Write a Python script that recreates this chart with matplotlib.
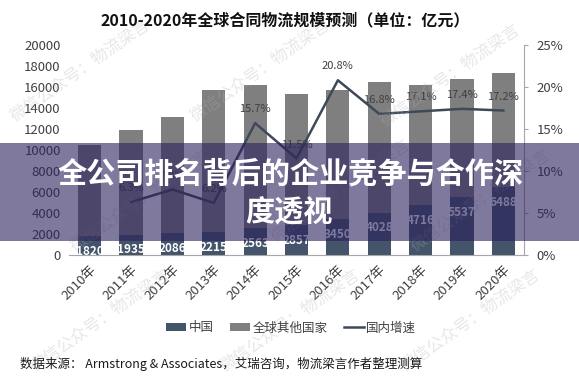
import matplotlib
matplotlib.use("Agg")
import matplotlib.pyplot as plt
from matplotlib.patches import Rectangle
import numpy as np

plt.rcParams['font.family'] = ['Noto Sans CJK SC', 'DejaVu Sans']

years = ["2010年", "2011年", "2012年", "2013年", "2014年", "2015年",
         "2016年", "2017年", "2018年", "2019年", "2020年"]
china = [1820, 1935, 2086, 2215, 2563, 2857, 3450, 4028, 4716, 5537, 6488]
total = [10500, 11900, 13100, 15700, 16200, 15300, 15700, 16500, 16200, 16800, 17300]
others = [t - c for t, c in zip(total, china)]
growth = [None, 6.3, 7.8, 6.2, 15.7, 11.5, 20.8, 16.8, 17.1, 17.4, 17.2]
growth_labels = ["", "6.3%", "7.8%", "6.2%", "15.7%", "11.5%", "20.8%",
                 "16.8%", "17.1%", "17.4%", "17.2%"]

title = "2010-2020年全球合同物流规模预测（单位：亿元）"
source = "数据来源： Armstrong & Associates，艾瑞咨询，物流梁言作者整理测算"
banner1 = "全公司排名背后的企业竞争与合作深"
banner2 = "度透视"

c_china = "#44546A"
c_other = "#7F7F7F"
c_line = "#3E4A58"
c_text = "#404040"

fig = plt.figure(figsize=(5.79, 3.85), dpi=100)
ax = fig.add_axes([69 / 579, (385 - 255) / 385, (524 - 69) / 579, 210 / 385])
x = np.arange(len(years))
w = 0.56
ax.bar(x, china, width=w, color=c_china, label="中国", zorder=2)
ax.bar(x, others, width=w, bottom=china, color=c_other, label="全球其他国家", zorder=2)
ax.set_xlim(-0.5, len(years) - 0.5)
ax.set_ylim(0, 20000)
ax.set_yticks(range(0, 20001, 2000))
ax.tick_params(axis='y', length=0, labelsize=9.5, labelcolor=c_text, pad=6)
ax.set_xticks(x)
ax.set_xticklabels(years, rotation=45, ha='right', rotation_mode='anchor',
                   fontsize=9.5, color=c_text)
ax.tick_params(axis='x', length=0, pad=6)
for s in ['top', 'left', 'right']:
    ax.spines[s].set_visible(False)
ax.spines['bottom'].set_color('#A6A6A6')

for xi, c in zip(x, china):
    ax.annotate(str(c), (xi, c), xytext=(0, -11), textcoords='offset points',
                ha='center', va='center', fontsize=8.5, fontweight='bold',
                color='white', zorder=3)

ax2 = ax.twinx()
gx = [xi for xi, g in zip(x, growth) if g is not None]
gy = [g for g in growth if g is not None]
ax2.plot(gx, gy, color=c_line, lw=1.8, label="国内增速", zorder=4)
ax2.set_ylim(0, 25)
ax2.set_yticks(range(0, 26, 5))
ax2.set_yticklabels([f"{v}%" for v in range(0, 26, 5)])
ax2.tick_params(axis='y', labelsize=9.5, labelcolor=c_text, length=3,
                color='#A6A6A6', pad=6)
for s in ['top', 'left', 'bottom']:
    ax2.spines[s].set_visible(False)
ax2.spines['right'].set_color('#A6A6A6')
for xi, g, lab in zip(x, growth, growth_labels):
    if g is None:
        continue
    ax2.annotate(lab, (xi, g), xytext=(0, 10), textcoords='offset points',
                 ha='center', va='center', fontsize=8, color=c_text, zorder=5)

fig.text(285 / 579, 1 - 20 / 385, title, ha='center', va='center',
         fontsize=11.5, fontweight='bold', color='#111111')

h1, l1 = ax.get_legend_handles_labels()
h2, l2 = ax2.get_legend_handles_labels()
fig.legend(h1 + h2, l1 + l2, loc='center', bbox_to_anchor=(291 / 579, 1 - 328 / 385),
           ncol=3, frameon=False, fontsize=9, handlelength=1.6, handleheight=0.6,
           handletextpad=0.2, columnspacing=1.3, labelcolor=c_text)

fig.text(20 / 579, 1 - 364 / 385, source, ha='left', va='center',
         fontsize=9, color='#1a1a1a')

# watermarks
wm = "微信公众号：物流梁言"
for (wx, wy) in [(80, 70), (260, 70), (450, 75), (140, 200), (340, 190),
                 (480, 200), (100, 320), (290, 320), (470, 320)]:
    fig.text(wx / 579, 1 - wy / 385, wm, rotation=35, ha='center', va='center',
             fontsize=12, color='#B0B0B0', alpha=0.3, zorder=0)

# banner overlay
fig.patches.append(Rectangle((0, 1 - 241 / 385), 1, 98 / 385,
                             transform=fig.transFigure, facecolor=(42 / 255, 32 / 255, 92 / 255),
                             alpha=0.6, edgecolor='none', zorder=10))
fig.text(291 / 579, 1 - 173 / 385, banner1, ha='center', va='center',
         fontsize=21, fontweight='bold', color='white', zorder=11)
fig.text(289 / 579, 1 - 212 / 385, banner2, ha='center', va='center',
         fontsize=21, fontweight='bold', color='white', zorder=11)

fig.savefig("out.png", dpi=100)
